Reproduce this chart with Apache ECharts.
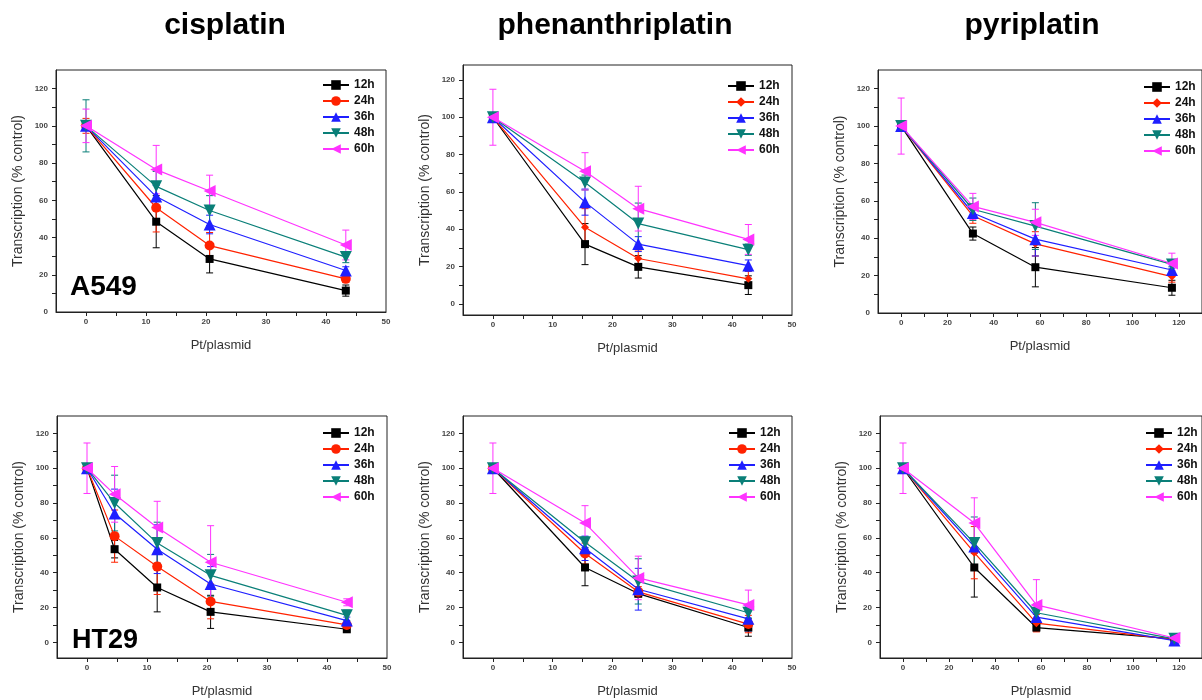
<!DOCTYPE html>
<html>
<head>
<meta charset="utf-8">
<script src="https://cdn.jsdelivr.net/npm/echarts@6/dist/echarts.min.js"></script>
<style>
  html, body { margin: 0; padding: 0; background: #fff; }
  #chart { width: 1202px; height: 700px; }
</style>
</head>
<body>
<div id="chart"></div>
<script>
// == Data ==================================================================

const hours = ['12h', '24h', '36h', '48h', '60h']
const colors = ['#000000', '#ff2200', '#1f1fff', '#0a7f78', '#ff33ff']

// cisplatin / A549
const cisA549X = [0, 11.7, 20.6, 43.3]
const cisA549Y = [
  [100, 48.5, 28.5, 11.5],
  [100, 56, 35.7, 17.8],
  [100, 62, 47, 22.3],
  [100, 67.5, 54.5, 29.5],
  [100, 76.5, 65, 36]
]
const cisA549Err = [
  [2, 14, 7.5, 3],
  [4, 13, 7, 2],
  [2, 6, 5, 2],
  [14, 8, 8, 3],
  [9, 13, 8.5, 8]
]

// phenanthriplatin / A549
const phenA549X = [0, 15.4, 24.3, 42.7]
const phenA549Y = [
  [100, 32, 19.8, 10],
  [100, 41, 24.3, 13.4],
  [100, 54.5, 32, 20.5],
  [100, 65, 43, 29],
  [100, 71, 51, 34.5]
]
const phenA549Err = [
  [1.5, 11, 6, 5],
  [1.5, 10, 4, 4],
  [1.5, 7, 4, 3],
  [1.5, 4, 11, 3],
  [15, 10, 12, 8]
]

// pyriplatin / A549
const pyrA549X = [0, 31, 58, 117]
const pyrA549Y = [
  [100, 42.5, 24.5, 13.5],
  [100, 52, 37, 19.5],
  [100, 53.5, 39.5, 23],
  [100, 55.5, 46.5, 26],
  [100, 57, 48.5, 26.5]
]
const pyrA549Err = [
  [1.5, 3.5, 10.5, 4],
  [1.5, 4, 6.5, 3],
  [1.5, 3, 9, 2],
  [1.5, 6, 12.5, 2],
  [15, 7, 7, 5.5]
]

// cisplatin / HT29
const cisHT29X = [0, 4.6, 11.7, 20.6, 43.3]
const cisHT29Y = [
  [100, 53.5, 31.5, 17.5, 7.5],
  [100, 61, 43.5, 23.5, 10],
  [100, 74, 53.5, 33.5, 12.5],
  [100, 80, 57, 38.5, 15.5],
  [100, 85, 66, 46, 23]
]
const cisHT29Err = [
  [1.5, 5, 14, 9.5, 1],
  [1.5, 15, 16, 10, 1],
  [1.5, 14, 14, 10, 2],
  [1.5, 16, 12, 12, 3],
  [14.5, 16, 15, 21, 2]
]

// phenanthriplatin / HT29
const phenHT29X = [0, 15.4, 24.3, 42.7]
const phenHT29Y = [
  [100, 43, 28, 8.5],
  [100, 51, 29, 10.5],
  [100, 54, 30.5, 13.5],
  [100, 57.5, 35, 17],
  [100, 68.5, 37, 21.5]
]
const phenHT29Err = [
  [1.5, 10.5, 2, 5],
  [1.5, 6, 3, 5],
  [1.5, 7, 12, 7],
  [1.5, 3, 13, 3],
  [14.5, 10, 12.5, 8.5]
]

// pyriplatin / HT29
const pyrHT29X = [0, 31, 58, 118]
const pyrHT29Y = [
  [100, 43, 8.5, 2],
  [100, 51.5, 11, 1.5],
  [100, 55, 14.5, 1],
  [100, 57, 17, 2],
  [100, 68.5, 21.5, 2.5]
]
const pyrHT29Err = [
  [1.5, 17, 2, 0.5],
  [1.5, 15, 5, 0.5],
  [1.5, 4, 4, 0.5],
  [1.5, 15, 5, 1],
  [14.5, 14.5, 14.5, 1]
]

// == Layout ================================================================

const panels = [
  {x: cisA549X, y: cisA549Y, err: cisA549Err, sym24: 'circle',
    grid: {left: 56, top: 70, width: 330, height: 242}, xr: [-5, 50, 10], yr: [0, 130], leg: [322, 79]},
  {x: phenA549X, y: phenA549Y, err: phenA549Err, sym24: 'diamond',
    grid: {left: 463, top: 65, width: 329, height: 250}, xr: [-5, 50, 10], yr: [-6, 128], leg: [727, 80]},
  {x: pyrA549X, y: pyrA549Y, err: pyrA549Err, sym24: 'diamond',
    grid: {left: 878, top: 70, width: 328, height: 243}, xr: [-10, 130, 20], yr: [0, 130], leg: [1143, 81]},
  {x: cisHT29X, y: cisHT29Y, err: cisHT29Err, sym24: 'circle',
    grid: {left: 57, top: 416, width: 330, height: 242}, xr: [-5, 50, 10], yr: [-9, 130], leg: [322, 427]},
  {x: phenHT29X, y: phenHT29Y, err: phenHT29Err, sym24: 'circle',
    grid: {left: 463, top: 416, width: 329, height: 242}, xr: [-5, 50, 10], yr: [-9, 130], leg: [728, 427]},
  {x: pyrHT29X, y: pyrHT29Y, err: pyrHT29Err, sym24: 'diamond',
    grid: {left: 880, top: 416, width: 328, height: 242}, xr: [-10, 130, 20], yr: [-9, 130], leg: [1145, 427]}
]

const axisColor = '#222'
const labelStyle = {fontSize: 8, fontWeight: 'bold', color: '#444', fontFamily: 'Liberation Sans'}

function stepsIn (lo, hi, step, from) {
  const out = []
  for (let v = from; v <= hi + 1e-9; v += step) {
    if (v >= lo - 1e-9) out.push(+v.toFixed(3))
  }
  return out
}

function renderErr (params, api) {
  const x = api.value(0)
  const y = api.value(1)
  const e = api.value(2)
  const hi = api.coord([x, y + e])
  const lo = api.coord([x, y - e])
  const w = 3.5
  const style = {stroke: api.visual('color'), lineWidth: 1}
  return {
    type: 'group',
    children: [
      {type: 'line', shape: {x1: hi[0], y1: hi[1], x2: lo[0], y2: lo[1]}, style},
      {type: 'line', shape: {x1: hi[0] - w, y1: hi[1], x2: hi[0] + w, y2: hi[1]}, style},
      {type: 'line', shape: {x1: lo[0] - w, y1: lo[1], x2: lo[0] + w, y2: lo[1]}, style}
    ]
  }
}

const grids = []
const xAxes = []
const yAxes = []
const legends = []
const series = []

panels.forEach((p, i) => {
  grids.push(Object.assign({show: true, borderColor: axisColor, borderWidth: 1}, p.grid))

  const [xMin, xMax, xStep] = p.xr
  xAxes.push({
    type: 'value', gridIndex: i, min: xMin, max: xMax,
    axisLine: {show: true, onZero: false, lineStyle: {color: axisColor, width: 1}},
    axisTick: {show: true, length: 4, lineStyle: {color: axisColor},
      customValues: stepsIn(xMin + 0.01, xMax - 0.01, xStep / 2, 0)},
    axisLabel: Object.assign({margin: 6, customValues: stepsIn(xMin, xMax, xStep, 0)}, labelStyle),
    splitLine: {show: false},
    name: 'Pt/plasmid', nameLocation: 'middle', nameGap: 27,
    nameTextStyle: {fontSize: 13, color: '#333', fontFamily: 'Liberation Sans'}
  })

  const [yMin, yMax] = p.yr
  yAxes.push({
    type: 'value', gridIndex: i, min: yMin, max: yMax,
    axisLine: {show: true, onZero: false, lineStyle: {color: axisColor, width: 1}},
    axisTick: {show: true, length: 4, lineStyle: {color: axisColor},
      customValues: stepsIn(yMin + 0.01, yMax - 0.01, 10, 0)},
    axisLabel: Object.assign({margin: 8, customValues: stepsIn(yMin, 120, 20, 0)}, labelStyle),
    splitLine: {show: false},
    name: 'Transcription (% control)', nameLocation: 'middle', nameGap: 31,
    nameTextStyle: {fontSize: 14, color: '#333', fontFamily: 'Liberation Sans'}
  })

  const names = hours.map(h => 'p' + i + '|' + h)
  legends.push({
    data: names, orient: 'vertical', left: p.leg[0], top: p.leg[1], padding: 0,
    itemWidth: 26, itemHeight: 12, itemGap: 4, selectedMode: false,
    formatter: n => n.split('|')[1],
    textStyle: {fontSize: 12, fontWeight: 'bold', color: '#111', fontFamily: 'Liberation Sans'}
  })

  hours.forEach((h, k) => {
    const sym = ['rect', p.sym24, 'triangle', 'triangle', 'triangle'][k]
    const rot = [0, 0, 0, 180, 90][k]
    const size = [8, p.sym24 === 'circle' ? 10 : 8, 12, 12, 12][k]
    series.push({
      type: 'custom', name: names[k] + '-err', xAxisIndex: i, yAxisIndex: i,
      renderItem: renderErr, silent: true, z: 2,
      itemStyle: {color: colors[k]},
      encode: {x: 0, y: 1},
      data: p.x.map((x, j) => [x, p.y[k][j], p.err[k][j]])
    })
    series.push({
      type: 'line', name: names[k], xAxisIndex: i, yAxisIndex: i, z: 3,
      symbol: sym, symbolSize: size, symbolRotate: rot, showAllSymbol: true,
      lineStyle: {color: colors[k], width: 1.2},
      itemStyle: {color: colors[k]},
      data: p.x.map((x, j) => [x, p.y[k][j]])
    })
  })
})

const titleFont = {fontSize: 30, fontWeight: 'bold', fontFamily: 'Liberation Sans', fill: '#000'}
const graphics = [
  ['cisplatin', 225, 26], ['phenanthriplatin', 615, 26], ['pyriplatin', 1032, 26]
].map(([t, x, y]) => ({
  type: 'text', x, y,
  style: Object.assign({text: t, textAlign: 'center', textVerticalAlign: 'middle'}, titleFont)
}))
graphics.push(
  {type: 'text', x: 70, y: 287, z: 10,
    style: {text: 'A549', fontSize: 28, fontWeight: 'bold', fontFamily: 'Liberation Sans', fill: '#000', textVerticalAlign: 'middle'}},
  {type: 'text', x: 72, y: 641, z: 10,
    style: {text: 'HT29', fontSize: 27, fontWeight: 'bold', fontFamily: 'Liberation Sans', fill: '#000', textVerticalAlign: 'middle'}}
)

const chart = echarts.init(document.getElementById('chart'))
chart.setOption({
  animation: false,
  backgroundColor: '#fff',
  grid: grids,
  xAxis: xAxes,
  yAxis: yAxes,
  legend: legends,
  graphic: graphics,
  series
})
</script>
</body>
</html>
